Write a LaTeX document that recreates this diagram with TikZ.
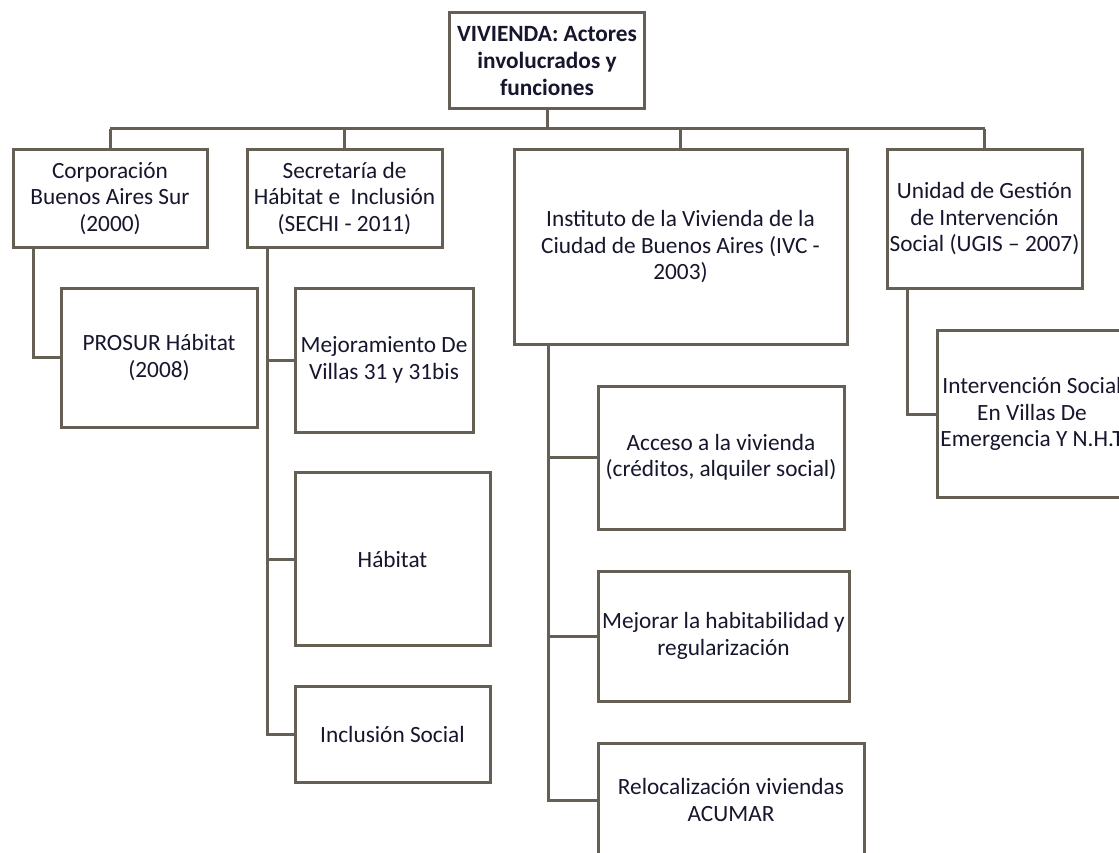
\documentclass[tikz,border=0pt]{standalone}
\usepackage{fontspec}
\setmainfont{Carlito}
\definecolor{linec}{RGB}{102,95,85}
\definecolor{txtc}{RGB}{22,22,45}
\tikzset{
  orgbox/.style={draw=linec, line width=3pt, fill=white, inner sep=0pt, align=center,
    text=txtc, font=\fontsize{23.3}{26.5}\selectfont},
  conn/.style={draw=linec, line width=3pt}
}
\begin{document}
\begin{tikzpicture}[x=1pt,y=-1pt]
\useasboundingbox (0,0) rectangle (1119,853);
\fill[white] (0,0) rectangle (1119,853);
\clip (0,0) rectangle (1119,853);
\node[orgbox, minimum width=195, minimum height=96, font=\fontsize{23.3}{26.8}\selectfont\bfseries] (top) at (547,61) {VIVIENDA: Actores\\involucrados y\\funciones};
\node[orgbox, minimum width=194, minimum height=97] (corp) at (110,198.5) {Corporación\\Buenos Aires Sur\\(2000)};
\node[orgbox, minimum width=195, minimum height=97] (sec) at (344.5,198.5) {Secretaría de\\Hábitat e\ \ Inclusión\\(SECHI - 2011)};
\node[orgbox, minimum width=333, minimum height=194] (inst) at (680.5,247) {Instituto de la Vivienda de la\\Ciudad de Buenos Aires (IVC -\\2003)};
\node[orgbox, minimum width=195, minimum height=138] (unid) at (984.5,219) {Unidad de Gestión\\de Intervención\\Social (UGIS – 2007)};
\node[orgbox, minimum width=196, minimum height=139] (prosur) at (159,357.5) {PROSUR Hábitat\\(2008)};
\node[orgbox, minimum width=178, minimum height=144] (mejvil) at (384,360) {Mejoramiento De\\Villas 31 y 31bis};
\node[orgbox, minimum width=195, minimum height=173] (habitat) at (392.5,559) {Hábitat};
\node[orgbox, minimum width=195, minimum height=96] (incl) at (392.5,734) {Inclusión Social};
\node[orgbox, minimum width=246, minimum height=143] (acceso) at (721,457.5) {Acceso a la vivienda\\(créditos, alquiler social)};
\node[orgbox, minimum width=251, minimum height=130] (mejorar) at (723.5,636) {Mejorar la habitabilidad y\\regularización};
\node[orgbox, minimum width=266, minimum height=114] (reloc) at (731,800) {Relocalización viviendas\\ACUMAR};
\node[orgbox, minimum width=190, minimum height=167] (interv) at (1032,414) {Intervención Social\\En Villas De\\Emergencia Y N.H.T};
\coordinate (busL) at (110,129);
\coordinate (busR) at (984.5,129);
\draw[conn] (busL) -- (busR);
\draw[conn] (top.south) -- (top.south |- busL);
\draw[conn] (corp.north |- busL) -- (corp.north);
\draw[conn] (sec.north |- busL) -- (sec.north);
\draw[conn] (inst.north |- busL) -- (inst.north);
\draw[conn] (unid.north |- busL) -- (unid.north);
\draw[conn] ([xshift=-77pt]corp.south) |- (prosur.west);
\draw[conn] ([xshift=-77.5pt]sec.south) |- (incl.west);
\draw[conn] ([xshift=-77.5pt]sec.south |- mejvil.west) -- (mejvil.west);
\draw[conn] ([xshift=-77.5pt]sec.south |- habitat.west) -- (habitat.west);
\draw[conn] ([xshift=-132.5pt]inst.south) |- (reloc.west);
\draw[conn] ([xshift=-132.5pt]inst.south |- acceso.west) -- (acceso.west);
\draw[conn] ([xshift=-132.5pt]inst.south |- mejorar.west) -- (mejorar.west);
\draw[conn] ([xshift=-77.5pt]unid.south) |- (interv.west);
\end{tikzpicture}
\end{document}
